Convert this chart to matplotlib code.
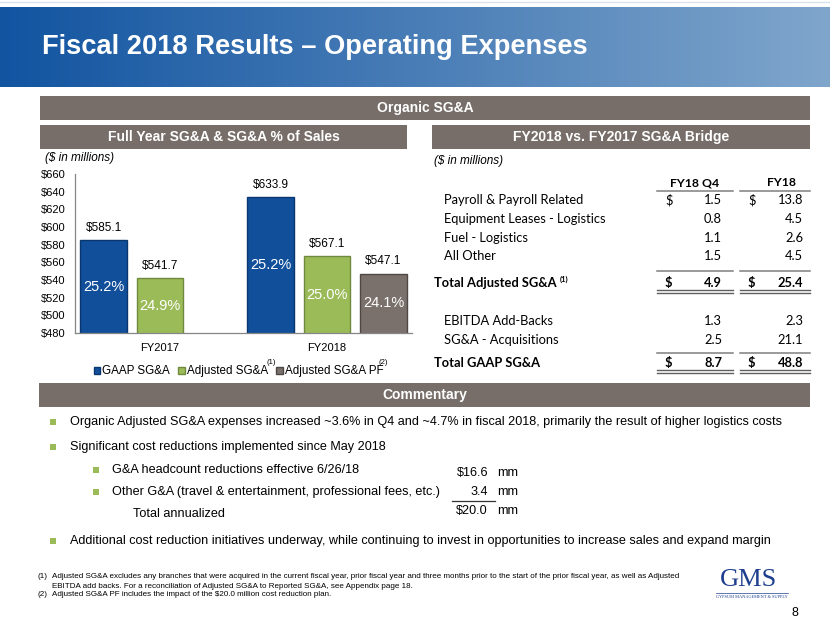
import numpy as np
import matplotlib
matplotlib.use("Agg")
import matplotlib.pyplot as plt
from matplotlib.patches import Rectangle
from matplotlib.lines import Line2D

# ---------------- data ----------------
categories = ["FY2017", "FY2018"]
series_names = ["GAAP SG&A", "Adjusted SG&A", "Adjusted SG&A PF"]
gaap_sga = [585.1, 633.9]
adjusted_sga = [541.7, 567.1]
adjusted_sga_pf = [np.nan, 547.1]
gaap_pct = ["25.2%", "25.2%"]
adjusted_pct = ["24.9%", "25.0%"]
adjusted_pf_pct = ["", "24.1%"]
y_ticks = [480, 500, 520, 540, 560, 580, 600, 620, 640, 660]

bridge_rows = ["Payroll & Payroll Related", "Equipment Leases - Logistics", "Fuel - Logistics", "All Other"]
bridge_q4 = [1.5, 0.8, 1.1, 1.5]
bridge_fy = [13.8, 4.5, 2.6, 4.5]
total_adj_q4, total_adj_fy = 4.9, 25.4
addback_rows = ["EBITDA Add-Backs", "SG&A - Acquisitions"]
addback_q4 = [1.3, 2.5]
addback_fy = [2.3, 21.1]
total_gaap_q4, total_gaap_fy = 8.7, 48.8

cost_items = ["G&A headcount reductions effective 6/26/18",
              "Other G&A (travel & entertainment, professional fees, etc.)"]
cost_values = ["$16.6", "3.4"]
cost_total = "$20.0"

# ---------------- layout helpers ----------------
W, H = 830, 623
fig = plt.figure(figsize=(W / 100, H / 100), dpi=100)
fig.patch.set_facecolor("white")

def fx(x):
    return x / W

def fy(y):
    return 1 - y / H

def ftext(x, y, s, **kw):
    kw.setdefault("va", "center")
    kw.setdefault("family", "Liberation Sans")
    return fig.text(fx(x), fy(y), s, **kw)

def frect(x0, y0, x1, y1, color, **kw):
    fig.patches.append(Rectangle((fx(x0), fy(y1)), (x1 - x0) / W, (y1 - y0) / H,
                                 transform=fig.transFigure, facecolor=color,
                                 edgecolor="none", **kw))

def fline(x0, x1, y, color="#7f7f7f", lw=1.1):
    fig.lines.append(Line2D([fx(x0), fx(x1)], [fy(y), fy(y)], transform=fig.transFigure,
                            color=color, lw=lw))

BANNER = "#776e6a"
BLUE = "#114f9a"
GREEN = "#9bbb59"
GRAY = "#7a716c"

# ---------------- title banner (gradient) ----------------
fline(0, 830, 2, color="#d9e2ec", lw=1.0)
tax = fig.add_axes([0, fy(87), 1, 80 / H])
c0 = np.array([0.07, 0.33, 0.63])
c1 = np.array([0.50, 0.65, 0.80])
t = np.linspace(0, 1, 400)
grad = (c0[None, :] * (1 - t[:, None]) + c1[None, :] * t[:, None])[None, :, :]
grad = np.repeat(grad, 10, axis=0)
tax.imshow(grad, aspect="auto", extent=[0, 1, 0, 1])
tax.set_axis_off()
ftext(42, 47, "Fiscal 2018 Results \u2013 Operating Expenses", color="white",
      fontsize=19.6, fontweight="bold")

# ---------------- section banners ----------------
frect(40, 96, 810, 120, BANNER)
ftext(425, 108, "Organic SG&A", color="white", fontsize=10, fontweight="bold", ha="center")
frect(40, 125, 407, 149, BANNER)
ftext(224, 137, "Full Year SG&A & SG&A % of Sales", color="white", fontsize=10,
      fontweight="bold", ha="center")
frect(432, 125, 810, 149, BANNER)
ftext(621, 137, "FY2018 vs. FY2017 SG&A Bridge", color="white", fontsize=10,
      fontweight="bold", ha="center")
frect(39, 383, 810, 407, BANNER)
ftext(425, 395, "Commentary", color="white", fontsize=10, fontweight="bold", ha="center")

# ---------------- bar chart ----------------
ftext(45, 158, "($ in millions)", fontsize=8.5, style="italic", color="black")
ax = fig.add_axes([fx(75), fy(333), (412 - 75) / W, (333 - 174) / H])
x = np.arange(len(categories))
step, width = 0.338, 0.281
series = [gaap_sga, adjusted_sga, adjusted_sga_pf]
pcts = [gaap_pct, adjusted_pct, adjusted_pf_pct]
faces = [BLUE, GREEN, GRAY]
edges = ["#0b3770", "#6f8a3c", "#4d4845"]
handles = []
for i, (vals, pc, fc, ec, name) in enumerate(zip(series, pcts, faces, edges, series_names)):
    xs = x + (i - 1) * step
    b = ax.bar(xs, vals, width, bottom=0, color=fc, edgecolor=ec, linewidth=1.0, label=name)
    handles.append(b)
    for xi, v, p in zip(xs, vals, pc):
        if np.isnan(v):
            continue
        ax.annotate(f"${v:.1f}", (xi, v), xytext=(0, 4.5), textcoords="offset points",
                    ha="center", va="bottom", fontsize=8.5, family="Liberation Sans")
        ax.text(xi, (480 + v) / 2, p, ha="center", va="center", color="white",
                fontsize=10.5, family="Liberation Sans")
ax.set_ylim(480, 660)
ax.set_xlim(-0.509, 1.509)
ax.set_yticks(y_ticks)
ax.set_yticklabels([f"${v}" for v in y_ticks], family="Liberation Sans", fontsize=8)
ax.set_xticks(x)
ax.set_xticklabels(categories, family="Liberation Sans", fontsize=8)
ax.tick_params(axis="both", length=0)
ax.tick_params(axis="y", pad=7)
ax.tick_params(axis="x", pad=7)
for s in ["top", "right"]:
    ax.spines[s].set_visible(False)
for s in ["left", "bottom"]:
    ax.spines[s].set_color("#868686")
    ax.spines[s].set_linewidth(0.9)
leg = ax.legend(handles=handles, ncol=3, loc="center", bbox_to_anchor=(0.485, -0.24),
                frameon=False, handlelength=0.55, handleheight=0.55, handletextpad=0.15,
                columnspacing=0.75, prop={"family": "Liberation Sans", "size": 8.4})
ftext(266, 363, "(1)", fontsize=5.5)
ftext(378, 363, "(2)", fontsize=5.5)

# ---------------- bridge table ----------------
TF = "Lato"
TS = 9.3
ftext(434, 161, "($ in millions)", fontsize=8.5, style="italic")
ftext(695, 183, "FY18 Q4", fontsize=8.8, fontweight="bold", ha="center", family=TF)
ftext(781, 183, "FY18", fontsize=8.8, fontweight="bold", ha="center", family=TF)
fline(657, 733, 191)
fline(740, 810, 191)

def row(y, label, q4, fy_, xl=444, bold=False, dollar=False, sup=None):
    w = "bold" if bold else "normal"
    ftext(xl, y, label, fontsize=TS, fontweight=w, family=TF)
    if sup:
        ftext(560, y - 4, sup, fontsize=5.5, fontweight="bold", family=TF)
    if dollar:
        ftext(665, y, "$", fontsize=TS, fontweight=w, family=TF)
        ftext(748, y, "$", fontsize=TS, fontweight=w, family=TF)
    ftext(722, y, f"{q4:.1f}", fontsize=TS, fontweight=w, family=TF, ha="right")
    ftext(803, y, f"{fy_:.1f}", fontsize=TS, fontweight=w, family=TF, ha="right")

row_y = [200, 219, 238, 256]
for i, (lab, q, f) in enumerate(zip(bridge_rows, bridge_q4, bridge_fy)):
    row(row_y[i], lab, q, f, dollar=(i == 0))
fline(657, 733, 271)
fline(740, 810, 271)
row(283, "Total Adjusted SG&A", total_adj_q4, total_adj_fy, xl=434, bold=True, dollar=True, sup="(1)")
for yy in (290, 292.5):
    fline(657, 733, yy, color="#5f5f5f", lw=1.0)
    fline(740, 810, yy, color="#5f5f5f", lw=1.0)
for yy, lab, q, f in zip([321, 340], addback_rows, addback_q4, addback_fy):
    row(yy, lab, q, f)
fline(657, 733, 353)
fline(740, 810, 353)
row(363, "Total GAAP SG&A", total_gaap_q4, total_gaap_fy, xl=434, bold=True, dollar=True)
for yy in (370, 372.5):
    fline(657, 733, yy, color="#5f5f5f", lw=1.0)
    fline(740, 810, yy, color="#5f5f5f", lw=1.0)

# ---------------- commentary ----------------
def bullet(xb, y):
    frect(xb, y - 3, xb + 5.5, y + 2.5, GREEN)

CF = 9.1
bullet(50, 422)
ftext(70, 422, "Organic Adjusted SG&A expenses increased ~3.6% in Q4 and ~4.7% in fiscal 2018, "
      "primarily the result of higher logistics costs", fontsize=CF)
bullet(50, 447)
ftext(70, 447, "Significant cost reductions implemented since May 2018", fontsize=CF)
bullet(93, 470)
ftext(112, 470, cost_items[0], fontsize=CF)
bullet(93, 492)
ftext(112, 492, cost_items[1], fontsize=CF)
ftext(133, 514, "Total annualized", fontsize=CF)
ftext(488, 473, cost_values[0], fontsize=CF, ha="right")
ftext(488, 492, cost_values[1], fontsize=CF, ha="right")
ftext(488, 511, cost_total, fontsize=CF, ha="right")
for yy in (473, 492, 511):
    ftext(497, yy, "mm", fontsize=CF)
fline(452, 495, 501, color="#333333", lw=0.9)
bullet(50, 541)
ftext(70, 541, "Additional cost reduction initiatives underway, while continuing to invest in "
      "opportunities to increase sales and expand margin", fontsize=CF)

# ---------------- footnotes ----------------
FN = 5.8
ftext(37, 577, "(1)", fontsize=FN)
ftext(52, 577, "Adjusted SG&A excludes any branches that were acquired in the current fiscal year, "
      "prior fiscal year and three months prior to the start of the prior fiscal year, as well as Adjusted",
      fontsize=FN)
ftext(52, 586, "EBITDA add backs. For a reconciliation of Adjusted SG&A to Reported SG&A, see Appendix page 18.",
      fontsize=FN)
ftext(37, 595, "(2)", fontsize=FN)
ftext(52, 595, "Adjusted SG&A PF includes the impact of the $20.0 million cost reduction plan.",
      fontsize=FN)

# ---------------- logo & page number ----------------
ftext(748, 580, "GMS", fontsize=19, family="Liberation Serif", color="#1e3f8e", ha="center")
fline(716, 788, 593, color="#1e3f8e", lw=0.5)
ftext(752, 597, "GYPSUM MANAGEMENT & SUPPLY", fontsize=3.2, family="Liberation Serif",
      color="#1e3f8e", ha="center")
ftext(791, 613, "8", fontsize=9)

fig.savefig("out.png", dpi=100, facecolor="white")
